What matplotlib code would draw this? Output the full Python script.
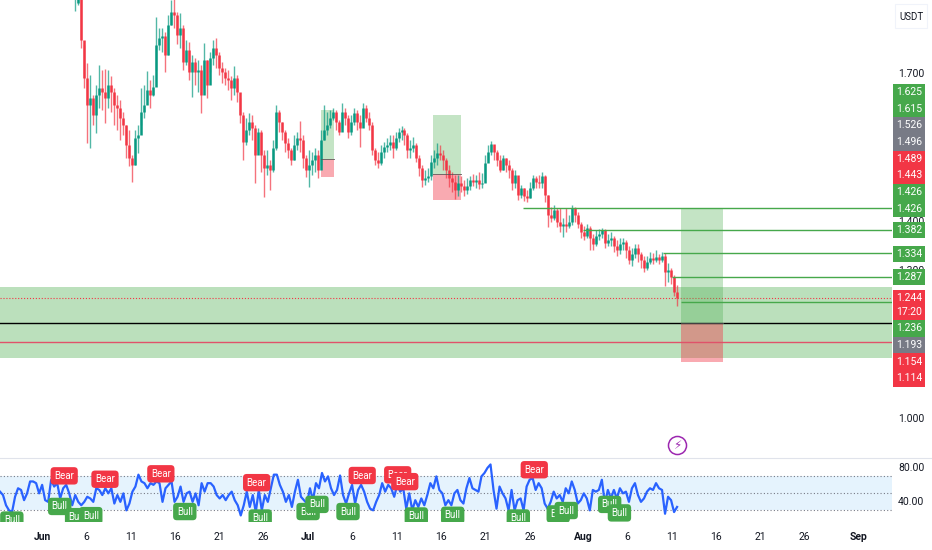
import numpy as np
import matplotlib
matplotlib.use('Agg')
import matplotlib.pyplot as plt
from matplotlib.patches import Rectangle
from matplotlib.lines import Line2D

# candles, 8h-ish bars
closes = [1.842,1.854,1.767,1.690,1.635,1.649,1.615,1.655,1.670,1.661,
          1.649,1.676,1.661,1.635,1.629,1.609,1.594,1.554,1.528,1.513,
          1.568,1.574,1.621,1.635,1.665,1.655,1.672,1.757,1.771,1.775,
          1.736,1.797,1.824,1.818,1.777,1.791,1.722,1.747,1.702,1.722,
          1.702,1.706,1.655,1.726,1.676,1.730,1.751,1.736,1.710,1.702,
          1.690,1.686,1.670,1.690,1.661,1.615,1.560,1.584,1.601,1.588,
          1.534,1.580,1.534,1.507,1.513,1.503,1.548,1.621,1.601,1.580,
          1.558,1.544,1.523,1.554,1.568,1.564,1.528,1.503,1.513,1.523,
          1.534,1.503,1.564,1.584,1.594,1.609,1.621,1.601,1.580,1.621,
          1.609,1.580,1.601,1.619,1.601,1.588,1.629,1.609,1.594,1.544,
          1.523,1.517,1.540,1.550,1.554,1.560,1.548,1.568,1.580,1.584,
          1.574,1.544,1.548,1.554,1.528,1.507,1.483,1.487,1.491,1.519,
          1.528,1.538,1.534,1.523,1.503,1.487,1.479,1.463,1.477,1.471,
          1.463,1.471,1.483,1.479,1.483,1.475,1.477,1.517,1.540,1.556,
          1.540,1.523,1.503,1.528,1.513,1.503,1.477,1.493,1.452,1.467,
          1.450,1.446,1.467,1.487,1.479,1.477,1.491,1.452,1.412,1.406,
          1.422,1.398,1.390,1.394,1.390,1.398,1.426,1.412,1.394,1.377,
          1.369,1.386,1.365,1.353,1.369,1.373,1.382,1.355,1.361,1.365,
          1.349,1.341,1.353,1.357,1.341,1.321,1.333,1.345,1.333,1.321,
          1.304,1.317,1.325,1.321,1.327,1.321,1.329,1.296,1.300,1.286,1.256,1.244]
highs = [1.864,1.868,1.858,1.757,1.720,1.696,1.655,1.676,1.716,1.706,
         1.708,1.706,1.694,1.670,1.655,1.645,1.621,1.594,1.584,1.534,
         1.584,1.594,1.670,1.676,1.704,1.686,1.696,1.814,1.791,1.791,
         1.783,1.818,1.848,1.852,1.824,1.822,1.797,1.767,1.763,1.736,
         1.730,1.726,1.716,1.761,1.726,1.743,1.767,1.771,1.743,1.722,
         1.710,1.706,1.694,1.714,1.696,1.649,1.621,1.609,1.619,1.615,
         1.594,1.588,1.584,1.544,1.544,1.523,1.564,1.635,1.625,1.601,
         1.584,1.568,1.548,1.574,1.580,1.603,1.574,1.534,1.544,1.540,
         1.548,1.544,1.584,1.635,1.621,1.625,1.629,1.625,1.605,1.639,
         1.629,1.615,1.615,1.629,1.625,1.615,1.639,1.635,1.621,1.601,
         1.548,1.540,1.554,1.560,1.568,1.574,1.574,1.580,1.588,1.592,
         1.588,1.578,1.564,1.570,1.558,1.534,1.513,1.503,1.507,1.534,
         1.544,1.558,1.554,1.544,1.528,1.513,1.499,1.493,1.493,1.491,
         1.483,1.487,1.491,1.495,1.493,1.499,1.497,1.534,1.554,1.562,
         1.554,1.544,1.534,1.534,1.528,1.523,1.507,1.503,1.487,1.473,
         1.467,1.463,1.479,1.493,1.491,1.493,1.499,1.493,1.452,1.428,
         1.432,1.426,1.426,1.406,1.426,1.412,1.432,1.428,1.418,1.398,
         1.390,1.394,1.390,1.373,1.382,1.384,1.386,1.384,1.373,1.377,
         1.369,1.361,1.365,1.365,1.361,1.349,1.345,1.353,1.353,1.337,
         1.329,1.329,1.337,1.335,1.341,1.333,1.337,1.335,1.315,1.304,1.290,1.270]
lows = [1.826,1.838,1.751,1.670,1.558,1.548,1.594,1.578,1.629,1.625,
        1.599,1.629,1.621,1.594,1.584,1.564,1.574,1.528,1.511,1.479,
        1.513,1.538,1.594,1.609,1.645,1.629,1.653,1.706,1.747,1.743,
        1.702,1.736,1.797,1.791,1.759,1.751,1.706,1.716,1.686,1.651,
        1.676,1.661,1.619,1.670,1.649,1.702,1.716,1.710,1.696,1.680,
        1.676,1.665,1.645,1.655,1.641,1.599,1.523,1.554,1.574,1.564,
        1.477,1.544,1.499,1.448,1.493,1.463,1.499,1.544,1.580,1.564,
        1.540,1.528,1.513,1.523,1.544,1.540,1.507,1.489,1.469,1.493,
        1.499,1.487,1.513,1.564,1.574,1.588,1.605,1.584,1.574,1.588,
        1.594,1.568,1.574,1.594,1.584,1.550,1.594,1.601,1.584,1.534,
        1.513,1.507,1.513,1.528,1.540,1.544,1.528,1.544,1.560,1.564,
        1.554,1.528,1.528,1.540,1.519,1.491,1.469,1.473,1.479,1.483,
        1.507,1.513,1.523,1.503,1.487,1.469,1.459,1.444,1.450,1.459,
        1.450,1.454,1.463,1.471,1.467,1.465,1.467,1.487,1.523,1.534,
        1.523,1.511,1.499,1.503,1.499,1.487,1.463,1.467,1.442,1.446,
        1.440,1.438,1.446,1.463,1.467,1.467,1.467,1.438,1.388,1.398,
        1.402,1.388,1.377,1.367,1.377,1.386,1.392,1.398,1.386,1.365,
        1.361,1.365,1.341,1.341,1.349,1.361,1.365,1.345,1.349,1.349,
        1.337,1.329,1.333,1.341,1.325,1.312,1.308,1.325,1.317,1.304,
        1.296,1.300,1.312,1.312,1.317,1.312,1.317,1.268,1.276,1.272,1.248,1.227]

rsi = [51,47,35,29,27,45,55,53,41,49,63,63,61,49,59,41,39,65,57,61,
       43,55,59,49,35,47,39,35,39,45,43,39,55,53,47,55,49,55,37,47,
       39,49,29,37,51,57,71,63,61,55,61,59,63,61,39,55,59,63,39,45,
       57,39,49,51,39,49,35,61,51,61,61,57,47,43,47,41,47,51,41,35,
       23,35,51,33,47,27,53,29,47,39,55,71,71,59,51,39,47,33,51,65,
       45,41,37,55,41,61,55,
       73,63,69,55,47,53,70,47,37,49,59,37,53,59,51,39,31,29,39,47,
       61,51,59,55,45,59,51,55,31,49,29,41,33,43,35,47,61,55,69,53,
       49,35,41,35,49,53,41,37,55,67,55,53,51,69,73,79,83,53,31,57,
       49,43,29,53,29,41,43,29,57,65,67,53,61,55,37,31,39,51,43,47,
       39,55,49,63,53,37,41,49,43,29,53,51,53,65,37,53,43,53,43,55,
       49,51,39,55,61,47,
       39,43,51,55,53,61,55,53,25,45,41,27,33]

# days counted from Jun 1
tick_days = [0,5,10,15,20,25,30,35,40,45,50,55,61,66,71,76,81,86,92]
tick_labels = ['Jun','6','11','16','21','26','Jul','6','11','16','21','26','Aug','6','11','16','21','26','Sep']
price_ticks = [1.7,1.4,1.3,1.0]
rsi_ticks = [80,40]

bear_days = [2.5,7.1,13.4,24.2,36.1,40.1,40.9,55.5]
bear_rsi = [69.6,65.6,72,61.6,70,70.8,62.8,76.8]
bull_days = [-3.4,2.0,3.9,5.5,16.1,24.6,30.0,31.0,34.5,42.2,46.3,53.7,58.2,59.1,64.0,65.1]
bull_rsi = [17.6,33.6,21.6,22.8,27.6,20,27.6,36,27.6,22.4,23.2,20,24.8,28.8,36,26]

# long/short boxes: start day, end day, target, entry, stop
box_start = [31.45,44.08,72.04]
box_end = [32.9,47.24,76.78]
box_target = [1.625,1.615,1.426]
box_entry = [1.526,1.496,1.193]
box_stop = [1.489,1.443,1.114]

level_prices = [1.426,1.382,1.334,1.287,1.236]
level_start = [54.23,61.0,70.0,71.03,72.04]

zone_top = 1.266
zone_bottom = 1.122
last_price = 1.244
entry_line = 1.193
stop_line = 1.154

stack_labels = ['1.625','1.615','1.526','1.496','1.489','1.443','1.426','1.426',
                '1.382','1.334','1.287','1.244','17:20','1.236','1.193','1.154','1.114']
stack_colors = ['g','g','k','k','r','r','g','g','g','g','g','r','r','g','k','r','r']
# pixel rows of the label stack on the price scale
stack_rows = [92,109,125,142,159,175,192,209,230,254,277,298,312,328,345,362,378]
stack_tops = [84,100.5,117,134,150.5,167,184,200.5,222,246,269,290,305,320,337,353,370]
stack_bottoms = [100.5,117,134,150.5,167,184,200.5,217,238,262,285,305,320,337,353,370,387]

W, H = 932, 550
GREEN = '#46a84b'
RED = '#f23645'
GREY = '#787b86'
UP = '#089981'
plt.rcParams['font.family'] = ['Roboto', 'DejaVu Sans']
plt.rcParams['font.size'] = 7.5

fig = plt.figure(figsize=(W/100, H/100), dpi=100)
ax = fig.add_axes([0, 1-458/H, 892/W, 458/H])
ax2 = fig.add_axes([0, 1-522/H, 892/W, 64/H])

xlim = (-4.735, 95.83)
ax.set_xlim(xlim)
ax.set_ylim(0.919, 1.848)
ax2.set_xlim(xlim)
ax2.set_ylim(15.3, 90.6)

for a in (ax, ax2):
    for s in a.spines.values():
        s.set_visible(False)

# candles
closes = np.array(closes)
highs = np.array(highs)
lows = np.array(lows)
opens = np.r_[closes[0], closes[:-1]]
bar_days = np.linspace(3.72, 71.6, len(closes))
colors = [UP if c >= o else RED for o, c in zip(opens, closes)]
ax.vlines(bar_days, lows, highs, colors=colors, lw=1.0, alpha=0.7, zorder=3)
ax.vlines(bar_days, opens, closes, colors=colors, lw=1.8, zorder=3)

# zone and lines
ax.axhspan(zone_bottom, zone_top, color='#4caf50', alpha=0.38, lw=0, zorder=1)
ax.axhline(last_price, color=RED, lw=0.8, ls=':', zorder=2)
ax.axhline(entry_line, color='black', lw=1.0, zorder=4)
ax.axhline(stop_line, color='#e0526a', lw=1.0, zorder=4)
ax.hlines(level_prices, level_start, xlim[1], color=GREEN, lw=1.0, zorder=4)

for s, e, t, m, b in zip(box_start, box_end, box_target, box_entry, box_stop):
    ax.add_patch(Rectangle((s, m), e-s, t-m, fc='#4caf50', alpha=0.33, lw=0, zorder=2))
    ax.add_patch(Rectangle((s, b), e-s, m-b, fc=RED, alpha=0.42, lw=0, zorder=2))
    ax.plot([s, e], [m, m], color='#555555', lw=0.7, alpha=0.8, zorder=4)

# bolt marker under the last bars
ax.plot([71.6], [0.945], 'o', ms=13, mfc='white', mec='#9c27b0', mew=1.1, clip_on=False, zorder=5)
ax.text(71.6, 0.945, '\u26a1', color='#9c27b0', fontsize=8.5, ha='center', va='center',
        family='DejaVu Sans', zorder=6)

# price scale
ax.set_xticks([])
ax.yaxis.tick_right()
ax.set_yticks(price_ticks)
ax.set_yticklabels(['%.3f' % p for p in price_ticks], color='#131722', fontsize=7.5)
ax.tick_params(axis='y', length=0, pad=4.5)

# lower pane
ax2.axhspan(30, 70, color='#e3f2fd', alpha=0.9, lw=0, zorder=1)
for lev in (30, 50, 70):
    ax2.axhline(lev, color=GREY, lw=0.8, ls=(0, (1, 2)), zorder=2)
rsi_days = np.linspace(-4.735, 71.6, len(rsi))
ax2.plot(rsi_days, rsi, color='#2962ff', lw=1.6, zorder=3)

for d, v in zip(bear_days, bear_rsi):
    ax2.text(d, v, 'Bear', color='white', fontsize=7, ha='center', va='center', zorder=5,
             clip_on=True, bbox=dict(boxstyle='round,pad=0.38', fc=RED, ec='none'))
for d, v in zip(bull_days, bull_rsi):
    ax2.text(d, v, 'Bull', color='white', fontsize=7, ha='center', va='center', zorder=5,
             clip_on=True, bbox=dict(boxstyle='round,pad=0.38', fc=GREEN, ec='none'))

ax2.yaxis.tick_right()
ax2.set_yticks(rsi_ticks)
ax2.set_yticklabels(['%.2f' % v for v in rsi_ticks], color='#131722', fontsize=7.5)
ax2.set_xticks(tick_days)
ax2.set_xticklabels(tick_labels, color='#131722', fontsize=7.5)
for lab, txt in zip(ax2.get_xticklabels(), tick_labels):
    if not txt.isdigit():
        lab.set_fontweight('bold')
ax2.tick_params(axis='x', length=0, pad=7.5)
ax2.tick_params(axis='y', length=0, pad=4.5)

# separator between panes
fig.add_artist(Line2D([0, 1], [1-458/H, 1-458/H], color='#e0e3eb', lw=0.8))

# label stack on the right
cmap = {'g': GREEN, 'r': RED, 'k': GREY}
for txt, c, row, top, bot in zip(stack_labels, stack_colors, stack_rows, stack_tops, stack_bottoms):
    fig.add_artist(Rectangle((893/W, 1-bot/H), 31.5/W, (bot-top)/H, fc=cmap[c], ec='none',
                             transform=fig.transFigure))
    fig.text(909/W, 1-row/H, txt, color='white', fontsize=7.5, ha='center', va='center', zorder=3)

# currency button
fig.add_artist(Rectangle((895/W, 1-28/H), 32/W, 24/H, fc='white', ec='#f0f3fa', lw=0.8,
                         transform=fig.transFigure))
fig.text(911/W, 1-17/H, 'USDT', color='#131722', fontsize=7, ha='center', va='center', zorder=3)

fig.savefig('out.png', dpi=100)
